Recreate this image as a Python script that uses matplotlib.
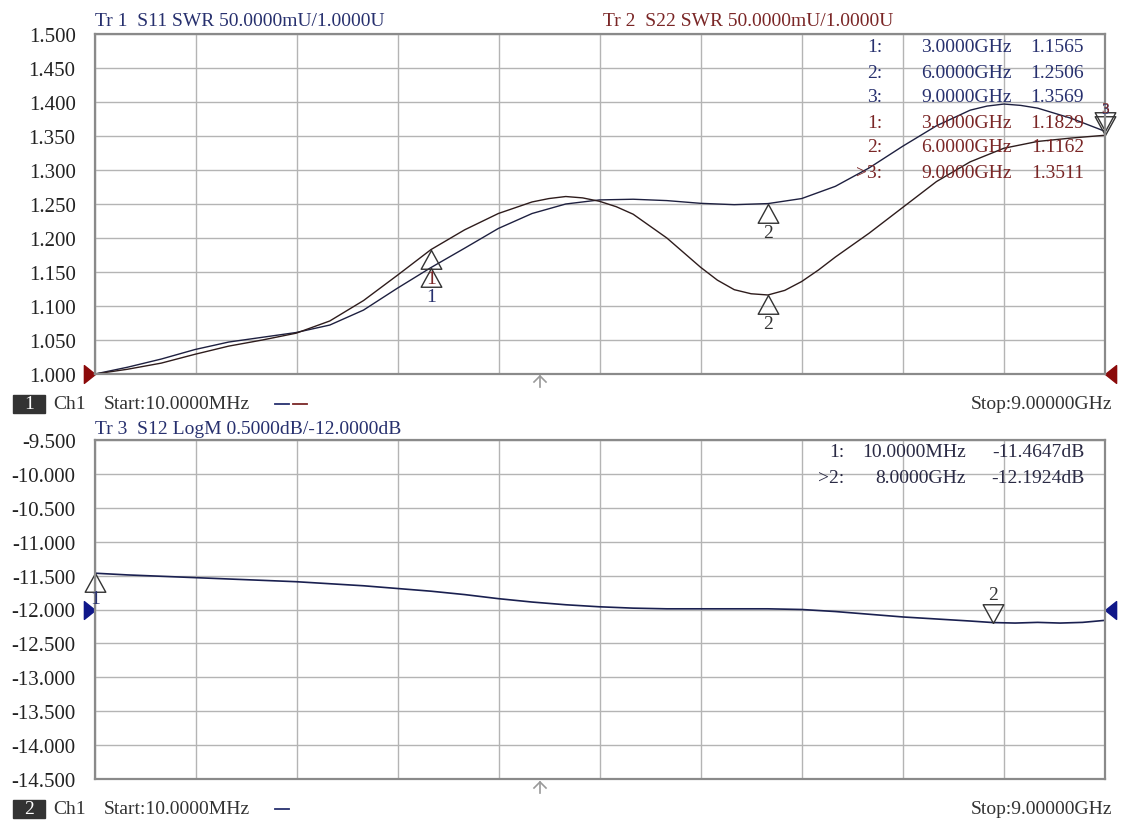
import matplotlib
matplotlib.use('Agg')
import matplotlib.pyplot as plt
from matplotlib.path import Path
from matplotlib.markers import MarkerStyle

plt.rcParams['font.family'] = ['Liberation Serif', 'DejaVu Serif']

W, H = 1124, 828
NAVY = '#27306e'
DRED = '#7a2626'
TR1 = '#1e2040'
TR2 = '#2e1c1c'
GRID = '#b4b4b4'
FRAME = '#8a8a8a'

# --- data (GHz) ---
f11 = [0.01, 0.3, 0.6, 0.9, 1.2, 1.5, 1.8, 2.1, 2.4, 2.7, 3.0, 3.3, 3.6, 3.9, 4.2,
       4.5, 4.8, 5.1, 5.4, 5.7, 6.0, 6.3, 6.6, 6.9, 7.2, 7.5, 7.8, 7.95, 8.1, 8.25,
       8.4, 8.7, 9.0]
s11 = [1.000, 1.010, 1.022, 1.036, 1.047, 1.054, 1.061, 1.072, 1.094, 1.126, 1.1565,
       1.185, 1.214, 1.236, 1.250, 1.256, 1.257, 1.255, 1.251, 1.249, 1.2506, 1.258,
       1.276, 1.303, 1.335, 1.365, 1.388, 1.394, 1.397, 1.395, 1.391, 1.376, 1.3569]
f22 = [0.01, 0.3, 0.6, 0.9, 1.2, 1.5, 1.8, 2.1, 2.4, 2.7, 3.0, 3.3, 3.6, 3.9, 4.05,
       4.2, 4.35, 4.5, 4.65, 4.8, 5.1, 5.4, 5.55, 5.7, 5.85, 6.0, 6.15, 6.3, 6.45,
       6.6, 6.9, 7.2, 7.5, 7.8, 8.1, 8.4, 8.7, 9.0]
s22 = [1.000, 1.007, 1.016, 1.029, 1.041, 1.050, 1.060, 1.078, 1.108, 1.145, 1.1829,
       1.212, 1.236, 1.253, 1.258, 1.261, 1.259, 1.254, 1.246, 1.235, 1.200, 1.157,
       1.138, 1.124, 1.118, 1.1162, 1.123, 1.136, 1.153, 1.172, 1.207, 1.245, 1.283,
       1.312, 1.332, 1.342, 1.347, 1.3511]

f12 = [0.01, 0.3, 0.6, 0.9, 1.2, 1.5, 1.8, 2.1, 2.4, 2.7, 3.0, 3.3, 3.6, 3.9, 4.2,
       4.5, 4.8, 5.1, 5.4, 5.7, 6.0, 6.3, 6.6, 6.9, 7.2, 7.5, 7.8, 8.0, 8.2, 8.4,
       8.6, 8.8, 9.0]
s12 = [-11.4647, -11.49, -11.51, -11.53, -11.55, -11.57, -11.59, -11.62, -11.65,
       -11.69, -11.73, -11.78, -11.84, -11.89, -11.93, -11.96, -11.98, -11.99, -11.99,
       -11.99, -11.99, -12.00, -12.03, -12.07, -12.11, -12.14, -12.17, -12.1924,
       -12.20, -12.19, -12.20, -12.19, -12.16]

mk_f = [3.0, 6.0, 9.0]
mk_s11 = [1.1565, 1.2506, 1.3569]
mk_s22 = [1.1829, 1.1162, 1.3511]
mk_f3 = [0.01, 8.0]
mk_s12 = [-11.4647, -12.1924]

swr_ticks = [1.0, 1.05, 1.1, 1.15, 1.2, 1.25, 1.3, 1.35, 1.4, 1.45, 1.5]
swr_labels = ['1.000', '1.050', '1.100', '1.150', '1.200', '1.250', '1.300',
              '1.350', '1.400', '1.450', '1.500']
db_ticks = [-14.5, -14.0, -13.5, -13.0, -12.5, -12.0, -11.5, -11.0, -10.5, -10.0, -9.5]
db_labels = ['-14.500', '-14.000', '-13.500', '-13.000', '-12.500', '-12.000',
             '-11.500', '-11.000', '-10.500', '-10.000', '-9.500']
x_start, x_stop = 0.01, 9.0

# marker shapes with the tip at the data point
tri_up = MarkerStyle(Path([(0, 0), (-0.55, -1), (0.55, -1), (0, 0)]))
tri_dn = MarkerStyle(Path([(0, 0), (-0.55, 1), (0.55, 1), (0, 0)]))
ref_l = MarkerStyle(Path([(0, 0), (-1, 0.8), (-1, -0.8), (0, 0)]))
ref_r = MarkerStyle(Path([(0, 0), (1, 0.8), (1, -0.8), (0, 0)]))

fig = plt.figure(figsize=(W / 100, H / 100), dpi=100)
ax1 = fig.add_axes([95 / W, 1 - 375 / H, 1010 / W, 340 / H])
ax2 = fig.add_axes([95 / W, 1 - 780 / H, 1010 / W, 339 / H])


def style(ax, ticks, labels):
    ax.set_xlim(x_start, x_stop)
    ax.set_ylim(ticks[0], ticks[-1])
    ax.set_xticks([x_start + (x_stop - x_start) * i / 10 for i in range(11)])
    ax.set_xticklabels([])
    ax.set_yticks(ticks)
    ax.set_yticklabels(labels, fontsize=15, color='#222222')
    ax.tick_params(length=0, pad=14)
    ax.grid(True, color=GRID, lw=1)
    for s in ax.spines.values():
        s.set_color(FRAME)
        s.set_linewidth(1.6)


style(ax1, swr_ticks, swr_labels)
style(ax2, db_ticks, db_labels)

ax1.plot(f11, s11, color=TR1, lw=1)
ax1.plot(f22, s22, color=TR2, lw=1)
ax2.plot(f12, s12, color='#1a2050', lw=1.2)

# markers
for i, f in enumerate(mk_f):
    m = tri_dn if i == 2 else tri_up
    for v, c, dy in ((mk_s11[i], NAVY, 0), (mk_s22[i], DRED, 5)):
        off = 22 + dy if i == 2 else -29
        ax1.plot([f], [v], ls='none', marker=m, ms=27, mfc='none', mec='#333333',
                 mew=1, clip_on=False)
        lc = c if i != 1 else '#333333'
        ax1.annotate(str(i + 1), (f, v), xytext=(0, off), textcoords='offset pixels',
                     ha='center', va='center', color=lc,
                     fontsize=14 if i != 2 else 11, annotation_clip=False)

for i, f in enumerate(mk_f3):
    m = tri_up if i == 0 else tri_dn
    off = -25 if i == 0 else 28
    ax2.plot([f], [mk_s12[i]], ls='none', marker=m, ms=27, mfc='none', mec='#333333',
             mew=1, clip_on=False)
    ax2.annotate(str(i + 1), (f, mk_s12[i]), xytext=(0, off), textcoords='offset pixels',
                 ha='center', va='center', color=NAVY if i == 0 else '#333333',
                 fontsize=14, annotation_clip=False)

# reference level arrows
ax1.plot([x_start], [1.0], ls='none', marker=ref_l, ms=16, color='#8b0a0a', clip_on=False)
ax1.plot([x_stop], [1.0], ls='none', marker=ref_r, ms=16, color='#8b0a0a', clip_on=False)
ax2.plot([x_start], [-12.0], ls='none', marker=ref_l, ms=16, color='#10188a', clip_on=False)
ax2.plot([x_stop], [-12.0], ls='none', marker=ref_r, ms=16, color='#10188a', clip_on=False)


def ftext(x, y, s, **kw):
    kw.setdefault('fontsize', 14)
    kw.setdefault('va', 'center')
    fig.text(x / W, 1 - y / H, s, **kw)


# stimulus arrows below the grids
for y0 in (377, 783):
    fig.add_artist(plt.Line2D([540 / W, 540 / W], [1 - y0 / H, 1 - (y0 + 11) / H],
                              color='#999999', lw=1.2))
    fig.add_artist(plt.Line2D([534 / W, 540 / W, 546 / W],
                              [1 - (y0 + 6) / H, 1 - y0 / H, 1 - (y0 + 6) / H],
                              color='#999999', lw=1.2))

ftext(95, 22, 'Tr 1  S11 SWR 50.0000mU/1.0000U', color=NAVY)
ftext(603, 22, 'Tr 2  S22 SWR 50.0000mU/1.0000U', color=DRED)
ftext(95, 430, 'Tr 3  S12 LogM 0.5000dB/-12.0000dB', color=NAVY)

# marker tables
top_rows = [('1:', '3.0000GHz', '1.1565', NAVY), ('2:', '6.0000GHz', '1.2506', NAVY),
            ('3:', '9.0000GHz', '1.3569', NAVY), ('1:', '3.0000GHz', '1.1829', DRED),
            ('2:', '6.0000GHz', '1.1162', DRED), ('>3:', '9.0000GHz', '1.3511', DRED)]
for k, (a, b, c, col) in enumerate(top_rows):
    y = 48 + 25 * k
    ftext(882, y, a, ha='right', color=col)
    ftext(1012, y, b, ha='right', color=col)
    ftext(1084, y, c, ha='right', color=col)

bot_rows = [('1:', '10.0000MHz', '-11.4647dB'), ('>2:', '8.0000GHz', '-12.1924dB')]
for k, (a, b, c) in enumerate(bot_rows):
    y = 453 + 26 * k
    ftext(844, y, a, ha='right', color='#2a2a44')
    ftext(966, y, b, ha='right', color='#2a2a44')
    ftext(1085, y, c, ha='right', color='#2a2a44')

# channel status lines
for y, num, dashes in ((405, '1', [(NAVY, 275), (DRED, 293)]), (810, '2', [(NAVY, 275)])):
    fig.add_artist(plt.Rectangle((13 / W, 1 - (y + 9) / H), 32 / W, 18 / H,
                                 color='#333333', transform=fig.transFigure))
    ftext(29, y, num, ha='center', color='white')
    ftext(53, y, 'Ch1', color='#333333')
    ftext(104, y, 'Start:10.0000MHz', color='#333333')
    for col, x0 in dashes:
        fig.add_artist(plt.Line2D([x0 / W, (x0 + 14) / W], [1 - y / H, 1 - y / H],
                                  color=col, lw=1.3))
    ftext(1112, y, 'Stop:9.00000GHz', ha='right', color='#333333')

fig.savefig('out.png', dpi=100, facecolor='white')
